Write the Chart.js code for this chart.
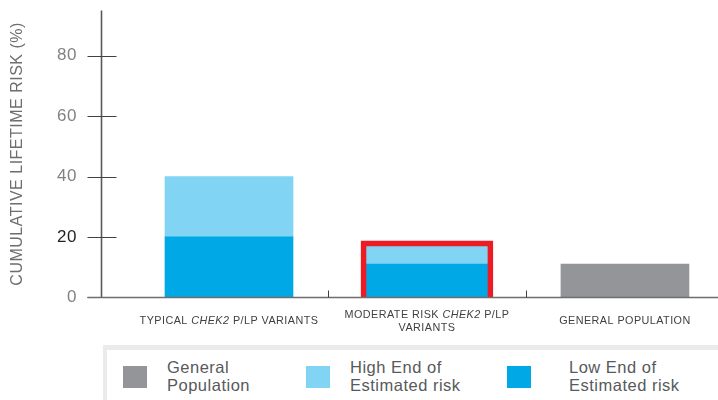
<!DOCTYPE html>
<html>
<head>
<meta charset="utf-8">
<script src="https://cdn.jsdelivr.net/npm/chart.js@4.4.1/dist/chart.umd.min.js"></script>
<style>
    html, body { margin: 0; padding: 0; background: #fff; overflow: hidden; }
    #wrap { position: relative; width: 718px; height: 400px; }
    #legend {
        position: absolute; left: 103px; top: 345px; width: 700px; height: 100px;
        box-sizing: border-box; border: 5px solid #ebebec; border-left-width: 4px; background: #fff;
        font-family: "Liberation Sans", Arial, sans-serif; font-size: 16.5px; letter-spacing: 0.5px;
        line-height: 18.3px; color: #58595b;
    }
    #legend .swatch { position: absolute; top: 16px; width: 24px; height: 22px; }
    #legend .text { position: absolute; top: 8px; white-space: nowrap; }
</style>
</head>
<body>
<div id="wrap">
    <canvas id="risk-chart" width="718" height="400"></canvas>
    <div id="legend"></div>
</div>
<script>
// categories, *...* marks the italic part
var categories = [
    ['TYPICAL *CHEK2* P/LP VARIANTS'],
    ['MODERATE RISK *CHEK2* P/LP', 'VARIANTS'],
    ['GENERAL POPULATION']
];
var positions = [0, 1, 2];
var lowEnd = [20, 11, null];
var highEnd = [40, 17, null];
var generalPopulation = [null, null, 11];
var highlightTop = [null, 18.7, null];
var yTicks = [0, 20, 40, 60, 80];
var legendLabels = [
    ['General', 'Population'],
    ['High End of', 'Estimated risk'],
    ['Low End of', 'Estimated risk']
];

var FONT = '"Liberation Sans", Arial, sans-serif';

// high end drawn as floating bar from the low end up
var highBars = highEnd.map(function (v, i) {
    return v == null ? null : [lowEnd[i], v];
});

/*
*   axis lines, crossing ticks and category labels
*/
var axesPlugin = {
    id: 'axesPlugin',
    beforeDraw: function (chart) {
        chart.ctx.letterSpacing = '0.5px';
    },
    afterDatasetsDraw: function (chart) {
        var ctx = chart.ctx;
        var area = chart.chartArea;
        var xs = chart.scales.x;
        var ys = chart.scales.y;
        var left = Math.round(area.left) + 0.5;
        var bottom = Math.round(area.bottom) + 0.5;
        ctx.save();

        ctx.strokeStyle = '#58595b';
        ctx.lineWidth = 1.6;
        ctx.beginPath();
        ctx.moveTo(left, area.top);
        ctx.lineTo(left, bottom);
        ctx.stroke();

        ctx.lineWidth = 1;
        ctx.strokeStyle = '#414042';
        ys.ticks.forEach(function (t) {
            var py = Math.round(ys.getPixelForValue(t.value)) + 0.5;
            ctx.beginPath();
            ctx.moveTo(left - 14, py);
            ctx.lineTo(left + 15, py);
            ctx.stroke();
        });

        ctx.strokeStyle = '#6d6e71';
        ctx.lineWidth = 1.6;
        ctx.beginPath();
        ctx.moveTo(left - 14, bottom);
        ctx.lineTo(area.right, bottom);
        ctx.stroke();

        ctx.lineWidth = 1;
        ctx.strokeStyle = '#414042';
        for (var i = 0; i < positions.length - 1; i++) {
            var sx = Math.round(xs.getPixelForValue((positions[i] + positions[i + 1]) / 2)) + 0.5;
            ctx.beginPath();
            ctx.moveTo(sx, bottom - 7);
            ctx.lineTo(sx, bottom);
            ctx.stroke();
        }

        // category labels
        ctx.letterSpacing = '0.45px';
        ctx.fillStyle = '#414042';
        ctx.textAlign = 'left';
        ctx.textBaseline = 'alphabetic';
        var normal = '10.8px ' + FONT;
        var italic = 'italic 10.8px ' + FONT;
        var center = area.bottom + 23.3;
        categories.forEach(function (lines, ci) {
            var cx = xs.getPixelForValue(positions[ci]);
            lines.forEach(function (line, li) {
                var parts = line.split('*');
                var total = 0;
                parts.forEach(function (p, k) {
                    ctx.font = k % 2 ? italic : normal;
                    total += ctx.measureText(p).width;
                });
                var tx = cx - total / 2;
                var ty = center + 3.85 + (li - (lines.length - 1) / 2) * 12.8;
                parts.forEach(function (p, k) {
                    ctx.font = k % 2 ? italic : normal;
                    ctx.fillText(p, tx, ty);
                    tx += ctx.measureText(p).width;
                });
            });
        });
        ctx.restore();
    }
};

var ctx = document.getElementById('risk-chart').getContext('2d');
var riskChart = new Chart(ctx, {
    type: 'bar',
    data: {
        labels: positions,
        datasets: [{
            label: 'Highlight',
            data: highlightTop,
            backgroundColor: 'rgba(0,0,0,0)',
            borderColor: '#ed1c24',
            borderWidth: 5,
            borderSkipped: 'bottom',
            barThickness: 132
        }, {
            label: legendLabels[2].join(' '),
            data: lowEnd,
            backgroundColor: '#00a9e6'
        }, {
            label: legendLabels[1].join(' '),
            data: highBars,
            backgroundColor: '#81d4f4'
        }, {
            label: legendLabels[0].join(' '),
            data: generalPopulation,
            backgroundColor: '#939598'
        }]
    },
    options: {
        responsive: false,
        animation: false,
        layout: {
            padding: { top: 10.5, right: 0, bottom: 102.7, left: 0 }
        },
        datasets: {
            bar: { grouped: false, barThickness: 128 }
        },
        plugins: {
            legend: { display: false },
            tooltip: { enabled: false }
        },
        scales: {
            x: {
                type: 'linear',
                min: -0.6465,
                max: 2.47,
                offset: false,
                display: false
            },
            y: {
                min: 0,
                max: 95,
                afterBuildTicks: function (s) {
                    s.ticks = yTicks.map(function (v) { return { value: v }; });
                },
                afterFit: function (s) {
                    s.width = 101;
                    s.paddingTop = 0;
                    s.paddingBottom = 0;
                },
                grid: { display: false, drawTicks: false },
                border: { display: false },
                ticks: {
                    padding: 24,
                    color: function (c) { return c.tick.value === 20 ? '#231f20' : '#808285'; },
                    font: { family: FONT, size: 17 }
                },
                title: {
                    display: true,
                    text: 'CUMULATIVE LIFETIME RISK (%)',
                    color: '#6d6e71',
                    font: { family: FONT, size: 16 },
                    padding: { top: 8.4, bottom: 0 }
                }
            }
        }
    },
    plugins: [axesPlugin]
});

/*
*   legend below the chart, in the order of the reference
*/
var legendOrder = [3, 2, 1];
var legendSlots = [{ swatch: 16, text: 60 }, { swatch: 199, text: 243 }, { swatch: 400, text: 462 }];
var legendEl = document.getElementById('legend');
legendOrder.forEach(function (di, k) {
    var ds = riskChart.data.datasets[di];
    var sw = document.createElement('div');
    sw.className = 'swatch';
    sw.style.left = legendSlots[k].swatch + 'px';
    sw.style.background = ds.backgroundColor;
    legendEl.appendChild(sw);
    var tx = document.createElement('div');
    tx.className = 'text';
    tx.style.left = legendSlots[k].text + 'px';
    tx.innerHTML = legendLabels[k].join('<br>');
    legendEl.appendChild(tx);
});
</script>
</body>
</html>
